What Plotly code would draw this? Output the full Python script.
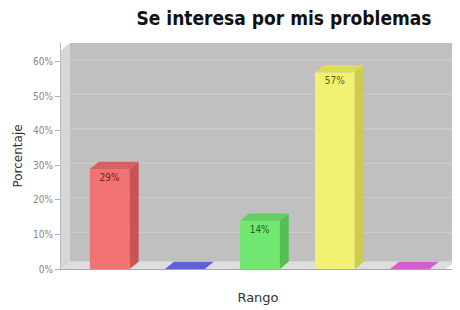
import plotly.graph_objects as go

categories = ["A", "B", "C", "D", "E"]
values = [29, 0, 14, 57, 0]
labels = ["29%", "", "14%", "57%", ""]
front_colors = ["#f07272", "#7272f0", "#72e872", "#f2f272", "#e872e8"]
side_colors = ["#c85454", "#5454c8", "#54c054", "#cccc50", "#c054c0"]
top_colors = ["#d86060", "#6060d8", "#60d060", "#dcdc5c", "#d060d0"]
label_colors = ["#7a2020", "#202070", "#206020", "#606010", "#602060"]

xs = list(range(len(categories)))
w = 0.53
dx = 0.12
dy = 2.1
ymax = 65.5
x0, x1 = -0.65, 4.6

fig = go.Figure()
fig.add_trace(go.Bar(
    x=xs, y=values, width=w,
    marker=dict(color=front_colors, line=dict(width=0)),
    text=labels, textposition="inside", insidetextanchor="end",
    textfont=dict(size=10, color=label_colors, family="DejaVu Sans Condensed"),
    textangle=0, hoverinfo="skip", showlegend=False,
))

shapes = []
# back wall
shapes.append(dict(type="rect", xref="x", yref="y", x0=x0 + dx, x1=x1, y0=dy, y1=ymax,
                   fillcolor="#c0c0c0", line=dict(width=0), layer="below"))
# left wall
shapes.append(dict(type="path", xref="x", yref="y",
                   path=f"M {x0},0 L {x0 + dx},{dy} L {x0 + dx},{ymax} L {x0},{ymax - dy} Z",
                   fillcolor="#d6d6d6", line=dict(width=0), layer="below"))
# floor
shapes.append(dict(type="path", xref="x", yref="y",
                   path=f"M {x0},0 L {x1 - dx},0 L {x1},{dy} L {x0 + dx},{dy} Z",
                   fillcolor="#dedede", line=dict(width=0), layer="below"))
# grid lines on back wall
for g in range(10, 70, 10):
    if g + dy < ymax:
        shapes.append(dict(type="line", xref="x", yref="y", x0=x0 + dx, x1=x1,
                           y0=g + dy * 0.3, y1=g + dy * 0.3,
                           line=dict(color="#cfcfcf", width=1), layer="below"))
# bar sides and tops
for i, v in enumerate(values):
    xl, xr = xs[i] - w / 2, xs[i] + w / 2
    if v > 0:
        shapes.append(dict(type="path", xref="x", yref="y",
                           path=f"M {xr},0 L {xr + dx},{dy} L {xr + dx},{v + dy} L {xr},{v} Z",
                           fillcolor=side_colors[i], line=dict(width=0), layer="above"))
    shapes.append(dict(type="path", xref="x", yref="y",
                       path=f"M {xl},{v} L {xr},{v} L {xr + dx},{v + dy} L {xl + dx},{v + dy} Z",
                       fillcolor=top_colors[i], line=dict(width=0), layer="above"))

fig.update_layout(
    width=460, height=310,
    margin=dict(l=53, r=13, t=35, b=49, autoexpand=False),
    paper_bgcolor="white", plot_bgcolor="white",
    shapes=shapes,
    title=dict(text="<b>Se interesa por mis problemas</b>", x=0.6, xanchor="center",
               y=0.968, yanchor="middle",
               font=dict(size=19, color="#111111", family="DejaVu Sans Condensed")),
    xaxis=dict(range=[x0, x1], showticklabels=False, showgrid=False, zeroline=False,
               showline=True, linecolor="#a8a8b0", ticks="", automargin=False,
               title=dict(text="Rango", font=dict(size=13, color="#333333", family="DejaVu Sans"),
                          standoff=23)),
    yaxis=dict(range=[0, ymax], tickvals=[0, 10, 20, 30, 40, 50, 60],
               ticktext=["0%", "10%", "20%", "30%", "40%", "50%", "60%"],
               tickfont=dict(size=10, color="#888888", family="DejaVu Sans Condensed"),
               showgrid=False, zeroline=False, showline=True, linecolor="#b8b8c4",
               ticks="outside", ticklen=5, tickcolor="#b0b0b0", automargin=False,
               title=dict(text="Porcentaje", font=dict(size=12, color="#333333", family="DejaVu Sans"),
                          standoff=7)),
    bargap=0.3,
)

fig.write_html("out.html")
